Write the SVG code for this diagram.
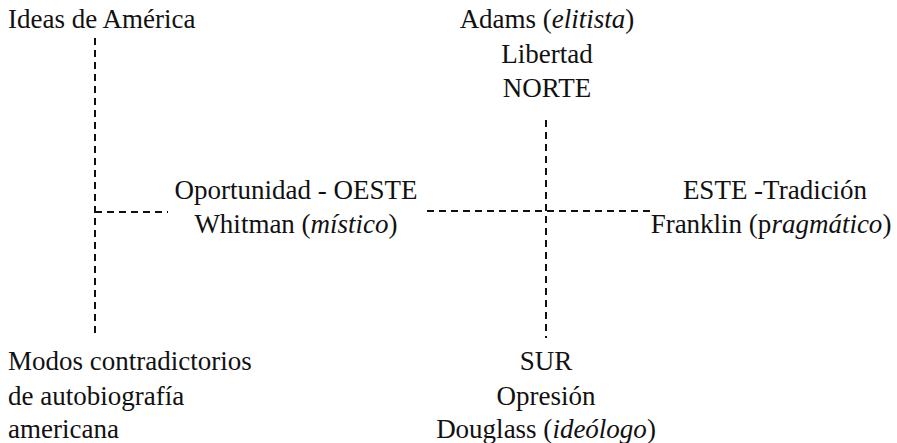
<svg xmlns="http://www.w3.org/2000/svg" width="897" height="443" viewBox="0 0 897 443">
<style>
text{font-family:"Liberation Serif","Times New Roman",Times,serif;font-size:27px;fill:#111}
.c{text-anchor:middle}
.i{font-style:italic}
.d{stroke:#111;stroke-width:2;stroke-dasharray:7 5;fill:none}
</style>
<rect width="897" height="443" fill="#fff"/>
<g id="connectors">
<line class="d" x1="95" y1="38" x2="95" y2="337"/>
<line class="d" x1="95" y1="212" x2="168" y2="212"/>
<line class="d" x1="427" y1="211" x2="652" y2="211"/>
<line class="d" x1="546" y1="120" x2="546" y2="338"/>
</g>
<g id="ideas"><text x="8" y="28">Ideas de América</text></g>
<g id="norte">
<text class="c" x="547" y="28">Adams (<tspan class="i">elitista</tspan>)</text>
<text class="c" x="547" y="63">Libertad</text>
<text class="c" x="547" y="97">NORTE</text>
</g>
<g id="oeste">
<text class="c" x="296" y="199">Oportunidad - OESTE</text>
<text class="c" x="296" y="233">Whitman (<tspan class="i">místico</tspan>)</text>
</g>
<g id="este">
<text class="c" x="775" y="199">ESTE -Tradición</text>
<text class="c" x="771" y="233">Franklin (p<tspan class="i">ragmático</tspan>)</text>
</g>
<g id="modos">
<text x="8" y="370">Modos contradictorios</text>
<text x="8" y="405">de autobiografía</text>
<text x="8" y="438">americana</text>
</g>
<g id="sur">
<text class="c" x="546" y="370">SUR</text>
<text class="c" x="546" y="405">Opresión</text>
<text class="c" x="546" y="438">Douglass (<tspan class="i">ideólogo</tspan>)</text>
</g>
</svg>
